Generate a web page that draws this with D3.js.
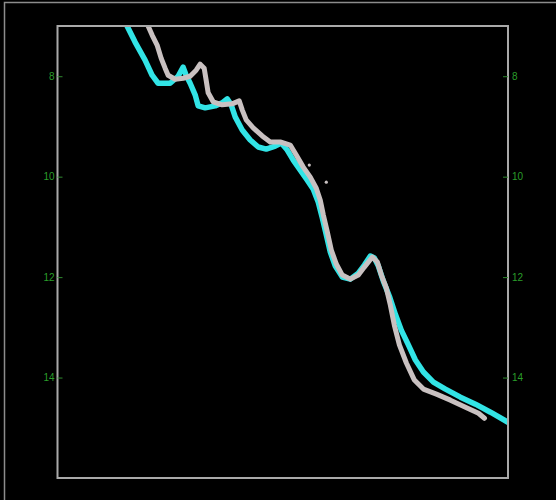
<!DOCTYPE html>
<html>
<head>
<meta charset="utf-8">
<script src="https://cdn.jsdelivr.net/npm/d3@7"></script>
<style>
  body { margin: 0; background: #000; }
  svg { display: block; }
</style>
</head>
<body>
<svg id="chart"></svg>
<script>
// profile readings: x along track, y depth value
var yTicks = [8, 10, 12, 14];

var cyanX = [6.95, 7.75, 8.75, 9.45, 10.05, 11.25, 12.05, 12.55, 12.85, 13.25, 13.75, 14.05, 14.75, 15.75, 16.45, 16.95, 17.35, 17.75, 18.45, 19.25, 20.05, 20.85, 21.75, 22.35, 22.95, 23.55, 24.25, 24.95, 25.55, 26.05, 26.45, 26.85, 27.25, 27.75, 28.45, 29.25, 30.05, 30.65, 31.25, 31.65, 32.05, 32.55, 33.15, 33.75, 34.35, 35.05, 35.75, 36.55, 37.55, 38.75, 40.25, 41.75, 43.25, 45.0];
var cyanY = [7.00, 7.32, 7.68, 7.98, 8.14, 8.14, 8.00, 7.82, 7.98, 8.14, 8.37, 8.59, 8.63, 8.59, 8.53, 8.45, 8.57, 8.81, 9.07, 9.27, 9.41, 9.45, 9.39, 9.33, 9.47, 9.67, 9.87, 10.07, 10.25, 10.51, 10.82, 11.16, 11.50, 11.78, 12.00, 12.04, 11.92, 11.76, 11.58, 11.62, 11.78, 12.08, 12.38, 12.74, 13.06, 13.35, 13.65, 13.89, 14.09, 14.23, 14.39, 14.53, 14.69, 14.89];

var grayX = [9.05, 9.45, 9.95, 10.35, 10.75, 11.05, 11.75, 12.55, 13.25, 13.85, 14.25, 14.65, 14.85, 15.05, 15.55, 16.45, 17.45, 18.15, 18.45, 18.85, 19.55, 20.45, 21.25, 22.25, 23.25, 23.85, 24.55, 25.25, 25.85, 26.25, 26.55, 26.95, 27.35, 27.85, 28.45, 29.25, 30.05, 30.65, 31.45, 31.95, 32.35, 32.85, 33.25, 33.65, 34.15, 34.85, 35.65, 36.55, 37.85, 39.25, 40.75, 42.05, 42.65];
var grayY = [7.00, 7.18, 7.38, 7.64, 7.84, 7.98, 8.06, 8.04, 8.00, 7.88, 7.76, 7.84, 8.08, 8.33, 8.51, 8.57, 8.55, 8.49, 8.67, 8.87, 9.03, 9.19, 9.31, 9.31, 9.37, 9.57, 9.81, 10.01, 10.23, 10.47, 10.76, 11.10, 11.46, 11.74, 11.96, 12.04, 11.96, 11.80, 11.60, 11.70, 11.96, 12.22, 12.56, 12.96, 13.35, 13.71, 14.05, 14.23, 14.33, 14.45, 14.59, 14.71, 14.81];

// stray gray readings
var strayX = [25.15, 26.85];
var strayY = [9.77, 10.11];

var width = 556;
var height = 500;
var margin = { "left": 57.5, "right": 48, "top": 26, "bottom": 22 };

var svg = d3.select("#chart")
    .attr("width", width)
    .attr("height", height);

svg.append("rect")
    .attr("width", width)
    .attr("height", height)
    .attr("fill", "#000");

// outer border (only left and top visible)
svg.append("path")
    .attr("d", "M4.5," + height + "V2.5H" + (width + 2))
    .attr("fill", "none")
    .attr("stroke", "#8c8c8c")
    .attr("stroke-width", 1.5);

var x = d3.scaleLinear()
    .domain([0, 45])
    .range([margin.left, width - margin.right]);

var y = d3.scaleLinear()
    .domain([7, 16])
    .range([margin.top, height - margin.bottom]);

var defs = svg.append("defs");
defs.append("clipPath")
    .attr("id", "plot-clip")
    .append("rect")
    .attr("x", x(0))
    .attr("y", y(7))
    .attr("width", x(45) - x(0))
    .attr("height", y(16) - y(7));
defs.append("filter")
    .attr("id", "soft")
    .append("feGaussianBlur")
    .attr("stdDeviation", 0.7);

var cyanData = cyanX.map((v, i) => ({ x: v, y: cyanY[i] }));
var grayData = grayX.map((v, i) => ({ x: v, y: grayY[i] }));
var strayData = strayX.map((v, i) => ({ x: v, y: strayY[i] }));

var lineFn = d3.line()
    .x(d => x(d.x))
    .y(d => y(d.y));

var traces = svg.append("g")
    .attr("clip-path", "url(#plot-clip)")
    .attr("filter", "url(#soft)");

traces.append("path")
    .attr("d", lineFn(cyanData))
    .attr("fill", "none")
    .attr("stroke", "#30e4e6")
    .attr("stroke-width", 5.5)
    .attr("stroke-linejoin", "round")
    .attr("stroke-linecap", "round");

traces.append("path")
    .attr("d", lineFn(grayData))
    .attr("fill", "none")
    .attr("stroke", "#c9c1c1")
    .attr("stroke-width", 5)
    .attr("stroke-linejoin", "round")
    .attr("stroke-linecap", "round");

traces.selectAll(".stray")
    .data(strayData).enter()
    .append("circle")
    .attr("class", "stray")
    .attr("cx", d => x(d.x))
    .attr("cy", d => y(d.y))
    .attr("r", 1.6)
    .attr("fill", "#c9c1c1");

// frame
svg.append("rect")
    .attr("x", x(0))
    .attr("y", y(7))
    .attr("width", x(45) - x(0))
    .attr("height", y(16) - y(7))
    .attr("fill", "none")
    .attr("stroke", "#a9a9a9")
    .attr("stroke-width", 2);

// y axes, ticks pointing inward
var leftAxis = svg.append("g")
    .attr("transform", "translate(" + x(0) + ",0)")
    .call(d3.axisLeft(y).tickValues(yTicks).tickSizeInner(-5).tickSizeOuter(0).tickPadding(3));

var rightAxis = svg.append("g")
    .attr("transform", "translate(" + x(45) + ",0)")
    .call(d3.axisRight(y).tickValues(yTicks).tickSizeInner(-5).tickSizeOuter(0).tickPadding(4));

[leftAxis, rightAxis].forEach(g => {
    g.select(".domain").remove();
    g.selectAll(".tick line").attr("stroke", "#2f8a2f");
    g.selectAll(".tick text")
        .attr("fill", "#2a9e2a")
        .style("font-family", "'Liberation Sans', Arial, sans-serif")
        .style("font-size", "10px");
});
</script>
</body>
</html>
